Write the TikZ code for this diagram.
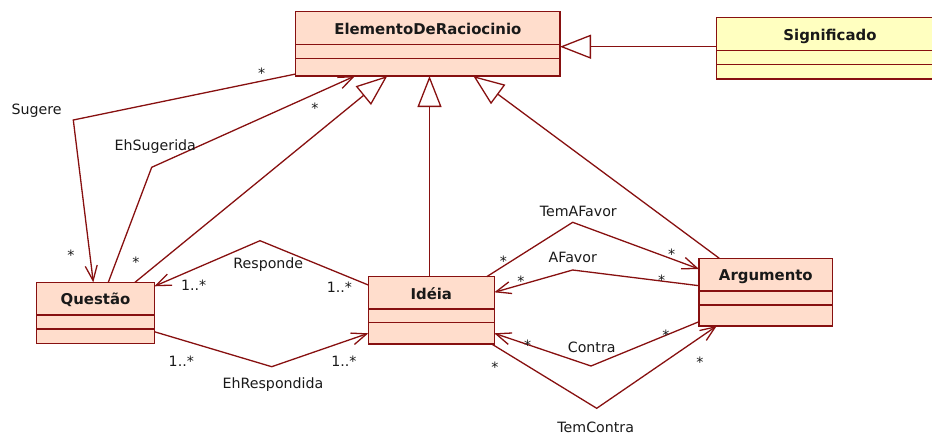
\documentclass[tikz,border=0pt]{standalone}
\usepackage{fontspec}
\setmainfont{DejaVu Sans}
\usetikzlibrary{arrows.meta,calc}

\definecolor{umlline}{RGB}{135,16,16}
\definecolor{classfill}{RGB}{255,221,204}
\definecolor{notefill}{RGB}{255,255,192}
\definecolor{txt}{RGB}{25,25,25}

\tikzset{
  umlclass/.style={draw=umlline, line width=1.5pt, inner sep=0pt, outer sep=0pt,
    anchor=north west, rectangle},
  compart/.style={draw=umlline, line width=1.5pt},
  ctitle/.style={font=\fontsize{14.9}{18}\selectfont\bfseries, text=txt, anchor=base, inner sep=0pt},
  lbl/.style={font=\fontsize{14.2}{17}\selectfont, text=txt, anchor=base, inner sep=0pt},
  assoc/.style={draw=umlline, line width=1.3pt, line join=miter,
    -{Straight Barb[length=15pt,width=12pt,line width=1.3pt]}},
  generalize/.style={draw=umlline, line width=1.3pt,
    -{Triangle[open, length=31pt, width=24pt, line width=1.3pt]}},
}

\begin{document}
\begin{tikzpicture}[x=1pt, y=-1pt]
\useasboundingbox (0,0) rectangle (932,434);

% ---- classes ----
\node[umlclass, fill=classfill, minimum width=264.3pt, minimum height=64.3pt] (elem) at (295.7,11.7) {};
\node[umlclass, fill=notefill, minimum width=226.6pt, minimum height=61.7pt] (sig) at (716.7,17.3) {};
\node[umlclass, fill=classfill, minimum width=117.6pt, minimum height=61pt] (ques) at (36.7,282.3) {};
\node[umlclass, fill=classfill, minimum width=126pt, minimum height=67.3pt] (idea) at (368.3,276.7) {};
\node[umlclass, fill=classfill, minimum width=133.7pt, minimum height=67.7pt] (arg) at (699,258.3) {};

% compartments
\foreach \c/\a/\b in {elem/32.6/46.6, sig/33.4/47, ques/32.7/46.7, idea/32.3/46, arg/32.7/46.7}{
  \draw[compart] ($(\c.north west)+(0,\a)$) -- ($(\c.north east)+(0,\a)$);
  \draw[compart] ($(\c.north west)+(0,\b)$) -- ($(\c.north east)+(0,\b)$);
}

% titles
\node[ctitle] (elemT) at ($(elem.north)+(0,22.6)$) {ElementoDeRaciocinio};
\node[ctitle] (sigT) at ($(sig.north west)+(113.3,22.7)$) {Significado};
\node[ctitle] (quesT) at ($(ques.north)+(0,22.2)$) {Questão};
\node[ctitle] (ideaT) at ($(idea.north)+(0,22.6)$) {Idéia};
\node[ctitle] (argT) at ($(arg.north)+(0,22.4)$) {Argumento};

% ---- generalizations ----
\draw[generalize] ($(sig.north west)+(0,29.4)$) -- ($(elem.north east)+(0,35)$);
\draw[generalize] ($(ques.north west)+(98.3,0)$) -- ($(elem.south west)+(91.6,0)$);
\coordinate (ideaTop) at ($(idea.north west)+(61.2,0)$);
\draw[generalize] (ideaTop) -- (ideaTop |- elem.south);
\draw[generalize] ($(arg.north west)+(20.3,0)$) -- ($(elem.south west)+(177.6,0)$);

% ---- associations ----
\coordinate (bSug) at (73.3,120);
\coordinate (bEhSug) at (151.7,167.3);
\coordinate (bResp) at (260,240.7);
\coordinate (bEhResp) at (271.7,366.7);
\coordinate (bTemAF) at (572.7,222.3);
\coordinate (bAF) at (572.7,270);
\coordinate (bContra) at (591,366);
\coordinate (bTemC) at (596.7,408.3);

\draw[assoc] ($(elem.south west)+(0,-2)$) -- (bSug) -- ($(ques.north west)+(56.6,0)$);
\draw[assoc] ($(ques.north west)+(71.6,0)$) -- (bEhSug) -- ($(elem.south west)+(59.3,0)$);
\draw[assoc] ($(idea.north west)+(0,8.3)$) -- (bResp) -- ($(ques.north east)+(0,4)$);
\draw[assoc] ($(ques.north east)+(0,49.4)$) -- (bEhResp) -- ($(idea.north west)+(0,56.6)$);
\draw[assoc] ($(idea.north east)+(-7.6,0)$) -- (bTemAF) -- ($(arg.north west)+(0,10.7)$);
\draw[assoc] ($(arg.north west)+(0,27.4)$) -- (bAF) -- ($(idea.north east)+(0,15.6)$);
\draw[assoc] ($(arg.north west)+(0,63.4)$) -- (bContra) -- ($(idea.north east)+(0,56.6)$);
\draw[assoc] ($(idea.south east)+(-2.6,0)$) -- (bTemC) -- ($(arg.south west)+(17.7,0)$);

% ---- association names ----
\node[lbl] (nSug) at (36.7,114.5) {Sugere};
\node[lbl] (nEhSug) at (155.3,150.7) {EhSugerida};
\node[lbl] (nResp) at (268.3,268.3) {Responde};
\node[lbl] (nEhResp) at (273,388.3) {EhRespondida};
\node[lbl] (nTemAF) at (578.3,216.7) {TemAFavor};
\node[lbl] (nAF) at (572.8,262.7) {AFavor};
\node[lbl] (nContra) at (591.7,352.3) {Contra};
\node[lbl] (nTemC) at (595.7,432) {TemContra};

% ---- multiplicities ----
\node[lbl] (m1) at (261.7,78.4) {*};
\node[lbl] (m2) at (315,113.4) {*};
\node[lbl] (m3) at (71,260) {*};
\node[lbl] (m4) at (136,267.7) {*};
\node[lbl] (m5) at (193.7,290) {1..*};
\node[lbl] (m6) at (339.5,292.5) {1..*};
\node[lbl] (m7) at (181.3,366.7) {1..*};
\node[lbl] (m8) at (344,366.7) {1..*};
\node[lbl] (m9) at (503.3,266.7) {*};
\node[lbl] (m10) at (671.7,259) {*};
\node[lbl] (m11) at (521,286.7) {*};
\node[lbl] (m12) at (661.7,285.7) {*};
\node[lbl] (m13) at (527.7,350) {*};
\node[lbl] (m14) at (666,340) {*};
\node[lbl] (m15) at (495,372.4) {*};
\node[lbl] (m16) at (700,367.7) {*};
\end{tikzpicture}
\end{document}
